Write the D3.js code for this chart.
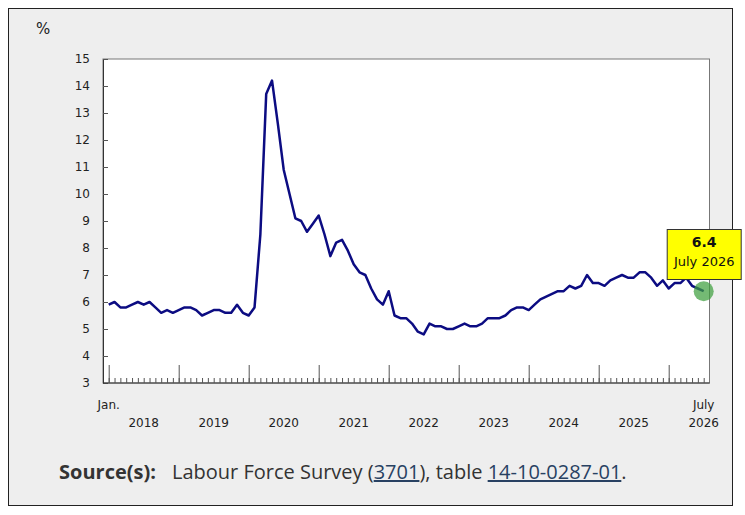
<!DOCTYPE html>
<html>
<head>
<meta charset="utf-8">
<title>Unemployment rate</title>
<script src="https://d3js.org/d3.v7.min.js"></script>
<style>
body { margin: 0; background: #fff; }
.axis text { font-family: "DejaVu Sans", Verdana, sans-serif; font-size: 12px; fill: #222; }
.axis .domain { stroke: #333; }
.axis .tick line { stroke: #555; }
.source { font-family: "Open Sans", "Noto Sans", sans-serif; font-size: 20px; fill: #333; }
.source .link { fill: #284162; text-decoration: underline; }
</style>
</head>
<body>
<div id="chart"></div>
<script>

// Monthly values, Jan. 2018 to July 2026 (%)
var years = [2018, 2019, 2020, 2021, 2022, 2023, 2024, 2025, 2026];
var monthNames = ["January", "February", "March", "April", "May", "June",
  "July", "August", "September", "October", "November", "December"];
var values = [
  5.9, 6.0, 5.8, 5.8, 5.9, 6.0, 5.9, 6.0, 5.8, 5.6, 5.7, 5.6,
  5.7, 5.8, 5.8, 5.7, 5.5, 5.6, 5.7, 5.7, 5.6, 5.6, 5.9, 5.6,
  5.5, 5.8, 8.5, 13.7, 14.2, 12.6, 10.9, 10.0, 9.1, 9.0, 8.6, 8.9,
  9.2, 8.5, 7.7, 8.2, 8.3, 7.9, 7.4, 7.1, 7.0, 6.5, 6.1, 5.9,
  6.4, 5.5, 5.4, 5.4, 5.2, 4.9, 4.8, 5.2, 5.1, 5.1, 5.0, 5.0,
  5.1, 5.2, 5.1, 5.1, 5.2, 5.4, 5.4, 5.4, 5.5, 5.7, 5.8, 5.8,
  5.7, 5.9, 6.1, 6.2, 6.3, 6.4, 6.4, 6.6, 6.5, 6.6, 7.0, 6.7,
  6.7, 6.6, 6.8, 6.9, 7.0, 6.9, 6.9, 7.1, 7.1, 6.9, 6.6, 6.8,
  6.5, 6.7, 6.7, 6.9, 6.6, 6.5, 6.4
];
var yTicks = [3, 4, 5, 6, 7, 8, 9, 10, 11, 12, 13, 14, 15];

var data = values.map(function (v, i) {
  return { key: i, year: years[0] + Math.floor(i / 12), month: i % 12, value: v };
});
var last = data[data.length - 1];

var width = 745, height = 515;
var plot = { left: 103, right: 709.5, top: 59, bottom: 383 };

var svg = d3.select("#chart").append("svg")
  .attr("width", width).attr("height", height);

// grey panel
svg.append("rect")
  .attr("x", 8.5).attr("y", 8.5).attr("width", 724).attr("height", 497)
  .style("fill", "#eeeeee").style("stroke", "#222");

// white plot area
svg.append("rect")
  .attr("x", plot.left).attr("y", plot.top)
  .attr("width", plot.right - plot.left).attr("height", plot.bottom - plot.top)
  .style("fill", "#fff").style("stroke", "#777");

var xScale = d3.scalePoint().domain(data.map(d => d.key)).range([108.7, 703.7]);
var yScale = d3.scaleLinear().domain([3, 15]).range([plot.bottom, plot.top]);

// y axis, ticks pointing into the plot
var yAxis = d3.axisLeft(yScale).tickValues(yTicks).tickSize(-5).tickPadding(13);
svg.append("g").attr("class", "axis")
  .attr("transform", "translate(" + plot.left + ",0)")
  .call(yAxis);

svg.append("text")
  .attr("x", 36).attr("y", 34)
  .style("font-family", "DejaVu Sans, Verdana, sans-serif")
  .style("font-size", "15px").style("fill", "#222")
  .text("%");

// x axis: short tick every month, long tick every January
var minorAxis = d3.axisBottom(xScale).tickSize(-5).tickFormat("");
var majorAxis = d3.axisBottom(xScale)
  .tickValues(data.filter(d => d.month === 0).map(d => d.key))
  .tickSize(-18).tickFormat("");
var gx = svg.append("g").attr("class", "axis")
  .attr("transform", "translate(0," + plot.bottom + ")");
gx.call(minorAxis);
gx.select(".domain").attr("d", "M" + plot.left + ",0H" + plot.right);
var gx2 = svg.append("g").attr("class", "axis")
  .attr("transform", "translate(0," + plot.bottom + ")");
gx2.call(majorAxis);
gx2.select(".domain").remove();

var labels = svg.append("g").attr("class", "axis");
labels.append("text").attr("x", xScale(0)).attr("y", 409)
  .attr("text-anchor", "middle").text("Jan.");
labels.append("text").attr("x", xScale(last.key)).attr("y", 409)
  .attr("text-anchor", "middle").text(monthNames[last.month].slice(0, 4));
labels.selectAll("text.year")
  .data(years.slice(0, -1))
  .enter().append("text")
  .attr("class", "year")
  .attr("x", (d, i) => xScale(i * 12 + 6))
  .attr("y", 427)
  .attr("text-anchor", "middle")
  .text(d => d);
labels.append("text").attr("x", xScale(last.key)).attr("y", 427)
  .attr("text-anchor", "middle").text(last.year);

// the series
var line = d3.line()
  .x(d => xScale(d.key))
  .y(d => yScale(d.value));

svg.append("path")
  .attr("d", line(data))
  .style("fill", "none")
  .style("stroke", "#0c0c82")
  .style("stroke-width", 2.5)
  .style("stroke-linejoin", "round");

// highlighted last point + tooltip
svg.append("circle")
  .attr("cx", xScale(last.key)).attr("cy", yScale(last.value))
  .attr("r", 10)
  .style("fill", "#3f9f3f").style("opacity", 0.72);

var tip = svg.append("g")
  .attr("transform", "translate(" + (xScale(last.key) - 37) + ",229.5)");
tip.append("rect")
  .attr("x", 0.5).attr("width", 74).attr("height", 50)
  .style("fill", "#ffff00").style("stroke", "#333");
tip.append("text")
  .attr("x", 37.5).attr("y", 17)
  .attr("text-anchor", "middle")
  .style("font-family", "DejaVu Sans, Verdana, sans-serif")
  .style("font-size", "14px").style("font-weight", "bold").style("fill", "#111")
  .text(last.value.toFixed(1));
tip.append("text")
  .attr("x", 37.5).attr("y", 36.5)
  .attr("text-anchor", "middle")
  .style("font-family", "DejaVu Sans, Verdana, sans-serif")
  .style("font-size", "13px").style("fill", "#111")
  .text(monthNames[last.month] + " " + last.year);

// source line
var src = svg.append("text").attr("class", "source")
  .attr("x", 59).attr("y", 479);
src.append("tspan").style("font-weight", "bold").text("Source(s):");
src.append("tspan").attr("dx", 16).text("Labour Force Survey (");
src.append("tspan").attr("class", "link").text("3701");
src.append("tspan").text("), table ");
src.append("tspan").attr("class", "link").text("14-10-0287-01");
src.append("tspan").text(".");

</script>
</body>
</html>
